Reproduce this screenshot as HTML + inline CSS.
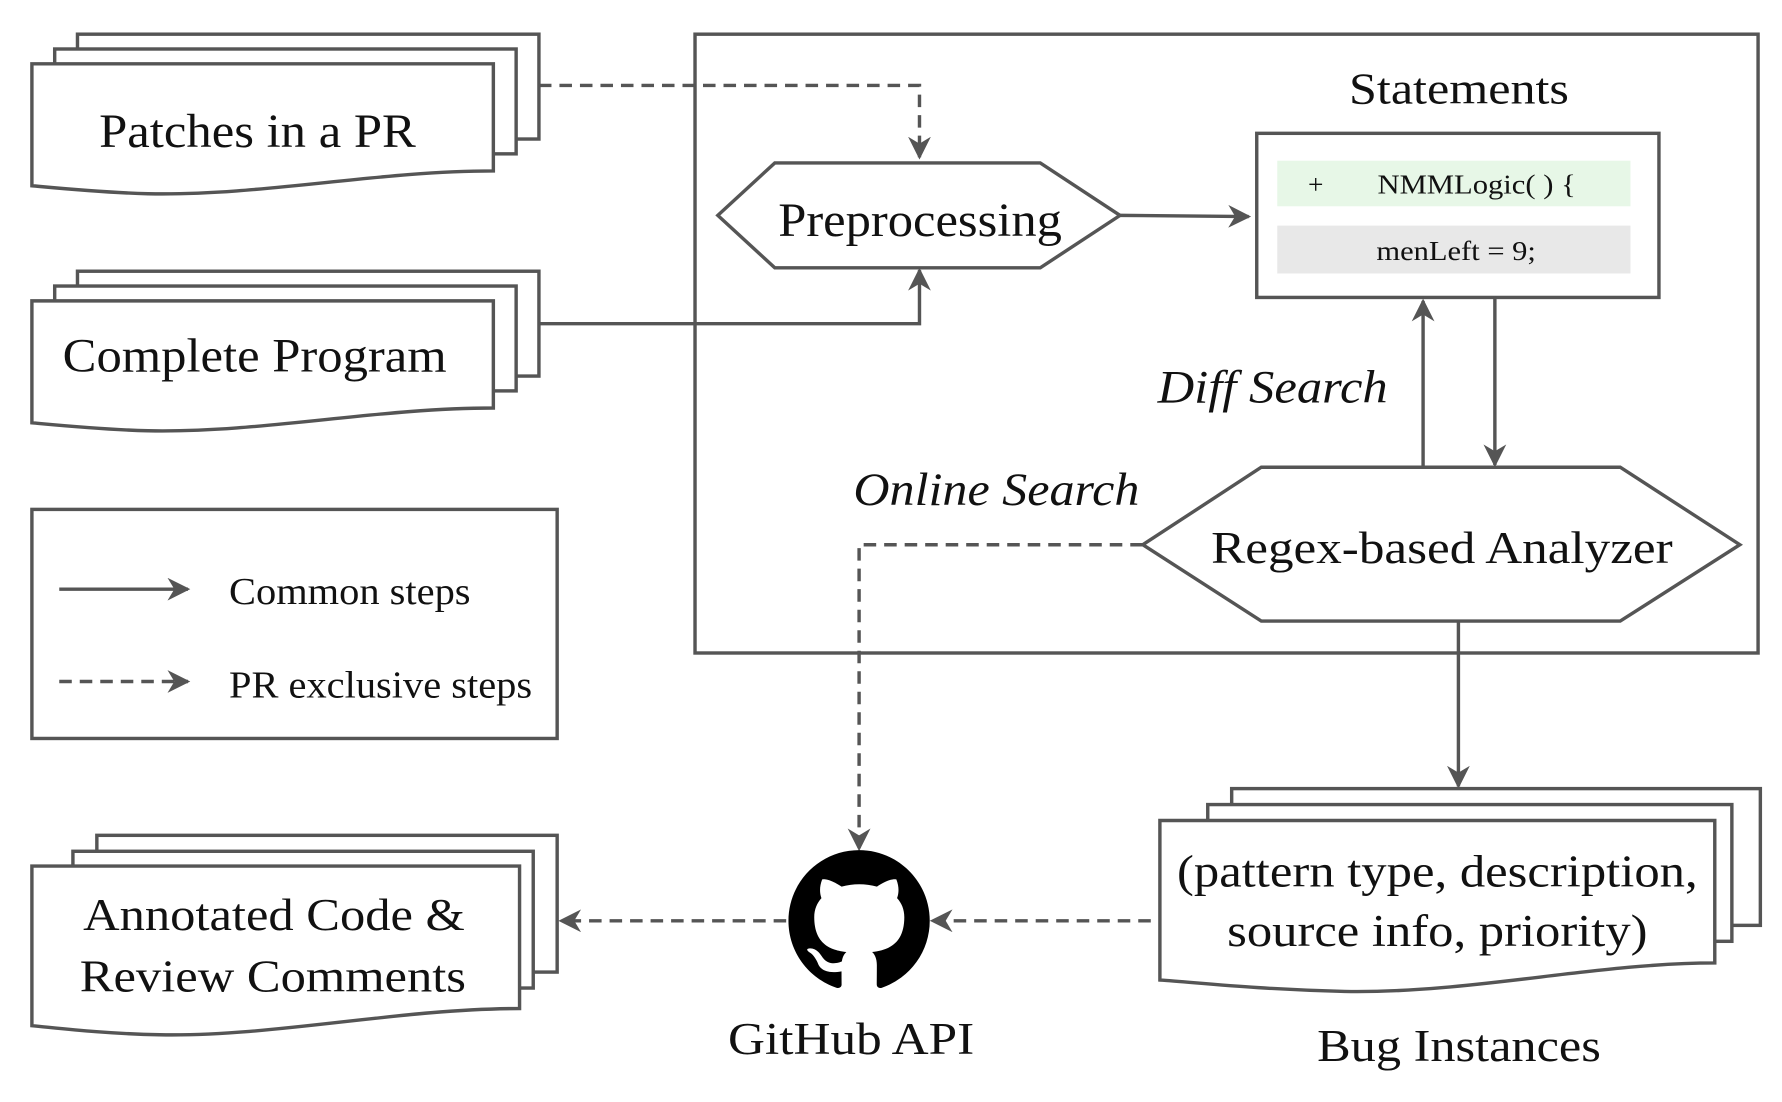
<!DOCTYPE html>
<html><head><meta charset="utf-8"><style>
html,body{margin:0;padding:0;background:#fff;}
svg{display:block;}
text{font-family:"Liberation Serif","Times New Roman",serif;fill:#111;}
</style></head><body>
<svg width="1782" height="1102" viewBox="0 0 1564 967" preserveAspectRatio="none" xmlns="http://www.w3.org/2000/svg">
<defs>
<marker id="ah" viewBox="0 0 20 20" refX="18" refY="10" markerWidth="20" markerHeight="20" markerUnits="userSpaceOnUse" orient="auto">
<path d="M0,0 L20,10 L0,20 L6,10 Z" fill="#555"/>
</marker>
</defs>
<g stroke="#555" stroke-width="3" fill="#fff">
<rect x="68" y="30" width="405" height="92"/>
<rect x="48" y="43" width="405" height="92"/>
<path d="M28,56 H433 V150 C330,150 230,172 130,170 C90,169 50,165 28,163 Z"/>
<rect x="68" y="238" width="405" height="92"/>
<rect x="48" y="251" width="405" height="92"/>
<path d="M28,264 H433 V358 C330,358 230,380 130,378 C90,377 50,373 28,371 Z"/>
<rect x="28" y="447" width="461" height="201"/>
<rect x="85" y="733" width="404" height="120"/>
<rect x="64" y="747" width="404" height="120"/>
<path d="M28,760 H456 V885 C350,885 240,910 140,908 C90,907 50,902 28,900 Z"/>
<rect x="1081" y="692" width="464" height="120"/>
<rect x="1060" y="706" width="460" height="120"/>
<path d="M1018,720 H1505 V845 C1400,845 1290,872 1180,870 C1100,868 1050,862 1018,860 Z"/>
<rect x="610" y="30" width="933" height="543" fill="none"/>
<polygon points="630,189 680,143 913,143 983,189 913,235 680,235"/>
<rect x="1103" y="117" width="353" height="144"/>
<polygon points="1003,478 1107,410 1422,410 1527,478 1422,545 1107,545"/>
</g>
<rect x="1121" y="141" width="310" height="40" fill="#e7f7e7"/>
<rect x="1121" y="198" width="310" height="42" fill="#e8e8e8"/>
<g stroke="#555" stroke-width="3" fill="none">
<path d="M473,75 H807 V138" stroke-dasharray="11,7" marker-end="url(#ah)"/>
<path d="M473,284 H807 V237" marker-end="url(#ah)"/>
<path d="M983,189 L1096,190" marker-end="url(#ah)"/>
<path d="M1249,410 V264" marker-end="url(#ah)"/>
<path d="M1312,261 V408" marker-end="url(#ah)"/>
<path d="M1003,478 H754 V745" stroke-dasharray="11,7" marker-end="url(#ah)"/>
<path d="M1280,545 V690" marker-end="url(#ah)"/>
<path d="M1010,808 H818" stroke-dasharray="11,7" marker-end="url(#ah)"/>
<path d="M690,808 H492" stroke-dasharray="11,7" marker-end="url(#ah)"/>
<path d="M52,517 H165" marker-end="url(#ah)"/>
<path d="M52,598 H165" stroke-dasharray="11,7" marker-end="url(#ah)"/>
</g>
<path transform="translate(692,746) scale(7.75)" fill="#000" d="M8 0C3.58 0 0 3.58 0 8c0 3.540 2.290 6.530 5.470 7.590.4.07.55-.17.55-.38 0-.19-.01-.82-.01-1.490-2.010.37-2.530-.49-2.690-.94-.09-.23-.48-.94-.82-1.130-.28-.15-.68-.52-.01-.53.63-.01 1.080.58 1.230.82.72 1.210 1.870.87 2.330.66.07-.52.28-.87.51-1.070-1.780-.2-3.640-.89-3.640-3.950 0-.87.31-1.590.82-2.150-.08-.2-.36-1.020.08-2.120 0 0 .67-.21 2.200.82.64-.18 1.320-.27 2-.27.68 0 1.360.09 2 .27 1.530-1.040 2.200-.82 2.200-.82.44 1.100.16 1.920.08 2.120.51.56.82 1.270.82 2.150 0 3.070-1.870 3.750-3.650 3.950.29.25.54.73.54 1.480 0 1.070-.01 1.930-.01 2.200 0 .21.15.46.55.38A8.013 8.013 0 0016 8c0-4.420-3.580-8-8-8z"/>
<g lengthAdjust="spacingAndGlyphs">
<text x="87" y="129" font-size="42" textLength="278" lengthAdjust="spacingAndGlyphs">Patches in a PR</text>
<text x="55" y="326" font-size="42" textLength="337" lengthAdjust="spacingAndGlyphs">Complete Program</text>
<text x="683" y="207" font-size="42" textLength="249" lengthAdjust="spacingAndGlyphs">Preprocessing</text>
<text x="1184" y="91" font-size="39" textLength="193" lengthAdjust="spacingAndGlyphs">Statements</text>
<text x="1063" y="494" font-size="40" textLength="405" lengthAdjust="spacingAndGlyphs">Regex-based Analyzer</text>
<text x="1016" y="353" font-size="41" font-style="italic" textLength="202" lengthAdjust="spacingAndGlyphs">Diff Search</text>
<text x="749" y="443" font-size="41" font-style="italic" textLength="251" lengthAdjust="spacingAndGlyphs">Online Search</text>
<text x="73" y="816" font-size="40" textLength="335" lengthAdjust="spacingAndGlyphs">Annotated Code &amp;</text>
<text x="70" y="870" font-size="40" textLength="339" lengthAdjust="spacingAndGlyphs">Review Comments</text>
<text x="1033" y="778" font-size="40" textLength="457" lengthAdjust="spacingAndGlyphs">(pattern type, description,</text>
<text x="1077" y="830" font-size="40" textLength="369" lengthAdjust="spacingAndGlyphs">source info, priority)</text>
<text x="1156" y="931" font-size="40" textLength="249" lengthAdjust="spacingAndGlyphs">Bug Instances</text>
<text x="639" y="925" font-size="40" textLength="216" lengthAdjust="spacingAndGlyphs">GitHub API</text>
<text x="1209" y="170" font-size="24" textLength="174" lengthAdjust="spacingAndGlyphs">NMMLogic( ) {</text>
<text x="1208" y="228" font-size="24" textLength="140" lengthAdjust="spacingAndGlyphs">menLeft = 9;</text>
<text x="1148" y="170" font-size="24">+</text>
<text x="201" y="530" font-size="33" textLength="212" lengthAdjust="spacingAndGlyphs">Common steps</text>
<text x="201" y="612" font-size="33" textLength="266" lengthAdjust="spacingAndGlyphs">PR exclusive steps</text>
</g>
</svg>
</body></html>
